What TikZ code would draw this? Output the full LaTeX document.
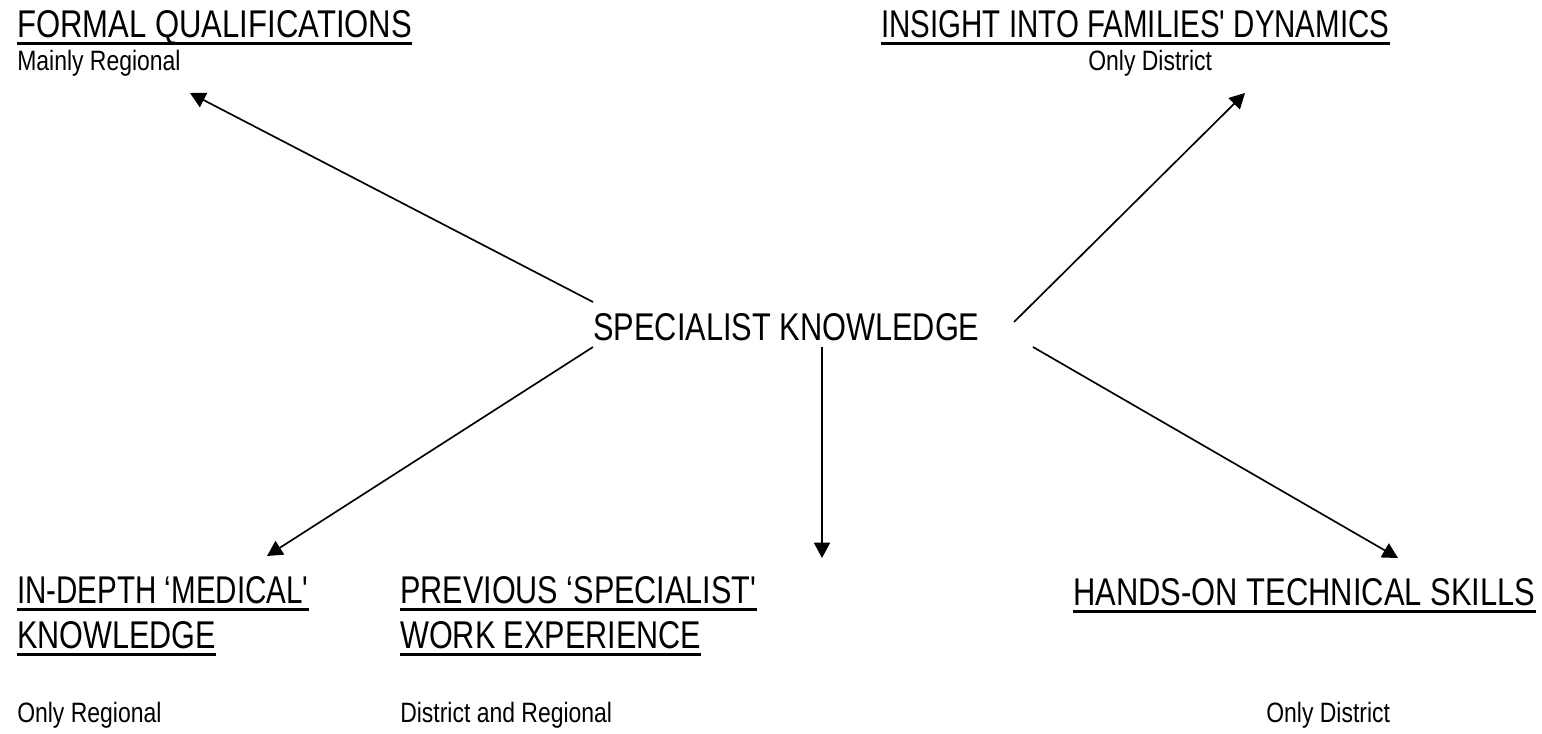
\documentclass[tikz,border=0pt]{standalone}
\usepackage{fontspec}
\usepackage{graphicx}
\setmainfont{Liberation Sans}[FakeStretch=0.82,Ligatures=TeXOff]
\usetikzlibrary{arrows.meta,calc}
\tikzset{
  ttl/.style={inner sep=0pt, anchor=base west, font=\fontsize{29}{35}\selectfont},
  sub/.style={inner sep=0pt, anchor=base west, font=\fontsize{21}{25}\selectfont},
  ulline/.style={line width=2.25pt},
  arr/.style={line width=1.25pt, -{Triangle[length=11.5pt,width=12pt]}}
}
\newcommand\ulnode[4][0.965]{\node[ttl] (#2) at (#3) {\scalebox{#1}[1]{#4}};
  \draw[ulline] ($(#2.base west)+(0,6)$) -- ($(#2.base east)+(0,6)$);}
\begin{document}
\begin{tikzpicture}[x=0.75pt,y=-0.75pt]
\useasboundingbox (0,0) rectangle (1542,733);
% titles
\ulnode[0.98]{fq}{17,37}{FORMAL QUALIFICATIONS}
\node[sub] (fqs) at (17,70) {Mainly Regional};
\ulnode[0.93]{ifd}{881,37}{INSIGHT INTO FAMILIES' DYNAMICS}
\node[sub] (ifds) at (1088,70) {Only District};
\node[ttl] (sk) at (593,340) {\scalebox{0.97}[1]{SPECIALIST KNOWLEDGE}};
\ulnode[0.932]{md1}{17,603}{IN-DEPTH ‘MEDICAL'}
\ulnode{md2}{17,648}{KNOWLEDGE}
\node[sub] (mds) at (17,722) {Only Regional};
\ulnode{pw1}{400,603}{PREVIOUS ‘SPECIALIST'}
\ulnode{pw2}{400,648}{WORK EXPERIENCE}
\node[sub] (pws) at (400,722) {District and Regional};
\ulnode[0.975]{hs}{1073,605}{HANDS-ON TECHNICAL SKILLS}
\node[sub] (hss) at (1266,722) {Only District};
% connector end points
\coordinate (a1s) at (593,302);  \coordinate (a1e) at (190,93);
\coordinate (a2s) at (1014,322); \coordinate (a2e) at (1245,93);
\coordinate (a3s) at (593,347);  \coordinate (a3e) at (267,556);
\coordinate (a4s) at (822,347);  \coordinate (a4e) at (822,558);
\coordinate (a5s) at (1033,347); \coordinate (a5e) at (1398,558);
\draw[arr] (a1s) -- (a1e);
\draw[arr] (a2s) -- (a2e);
\draw[arr] (a3s) -- (a3e);
\draw[arr] (a4s) -- (a4e);
\draw[arr] (a5s) -- (a5e);
\end{tikzpicture}
\end{document}
